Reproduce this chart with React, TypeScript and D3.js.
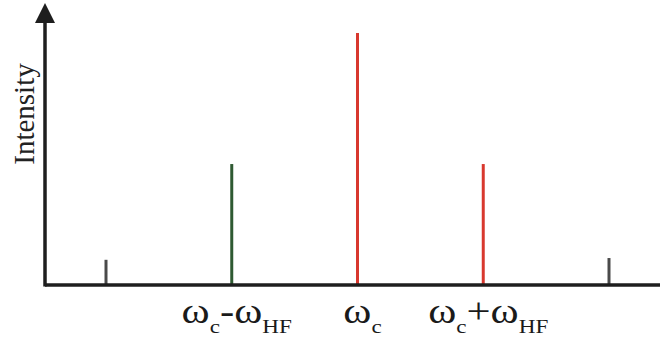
import * as d3 from 'd3';

// spectral lines: offset in units of omega_HF from omega_c
const offsets = [-2, -1, 0, 1, 2];
const intensities = [0.1, 0.48, 1.0, 0.48, 0.107];
const lineColors = ['#4a4a4a', '#2f5a32', '#d8382e', '#d8382e', '#4a4a4a'];

// tick labels: [main, sub, op, main, sub]
const labelOffsets = [-1, 0, 1];
const labelParts = [
  ['ω', 'c', '-', 'ω', 'HF'],
  ['ω', 'c', '', '', ''],
  ['ω', 'c', '+', 'ω', 'HF'],
];

const W = 660;
const H = 346;
const originX = 45;
const baseY = 285;
const serif = "'Liberation Serif', 'Times New Roman', Times, serif";

const App = () => {
  const x = d3.scaleLinear().domain([-2, 2]).range([106, 609]);
  const y = d3.scaleLinear().domain([0, 1]).range([baseY, 33]);

  return (
    <svg width={W} height={H} style={{ position: 'absolute', left: 0, top: 0 }}>
      <rect width={W} height={H} fill="#fff" />
      {offsets.map((o, i) => (
        <line
          key={o}
          x1={x(o)}
          x2={x(o)}
          y1={baseY}
          y2={y(intensities[i])}
          stroke={lineColors[i]}
          strokeWidth={3}
        />
      ))}
      {/* axes */}
      <line x1={originX} x2={W} y1={baseY} y2={baseY} stroke="#1e1e1e" strokeWidth={3.5} />
      <line x1={originX} x2={originX} y1={baseY + 1.5} y2={18} stroke="#1e1e1e" strokeWidth={3.5} />
      <path d={`M${originX - 10},23 L${originX},3 L${originX + 10},23 Z`} fill="#1e1e1e" />
      <text
        transform={`translate(34,114) rotate(-90)`}
        textAnchor="middle"
        fontFamily={serif}
        fontSize={29}
        fill="#222"
      >
        Intensity
      </text>
      {labelOffsets.map((o, i) => {
        const p = labelParts[i];
        return (
          <g key={o} transform={`translate(${x(o) + 5},0) scale(1.22,1)`}>
            <text
              x={0}
              y={323}
              textAnchor="middle"
              fontFamily={serif}
              fontSize={35}
              fill="#1a1a1a"
            >
              <tspan>{p[0]}</tspan>
              <tspan fontSize={19} dy={10}>{p[1]}</tspan>
              {p[2] && <tspan dy={-10}>{p[2]}</tspan>}
              {p[3] && <tspan>{p[3]}</tspan>}
              {p[4] && <tspan fontSize={19} dy={10}>{p[4]}</tspan>}
            </text>
          </g>
        );
      })}
    </svg>
  );
};

export default App;
